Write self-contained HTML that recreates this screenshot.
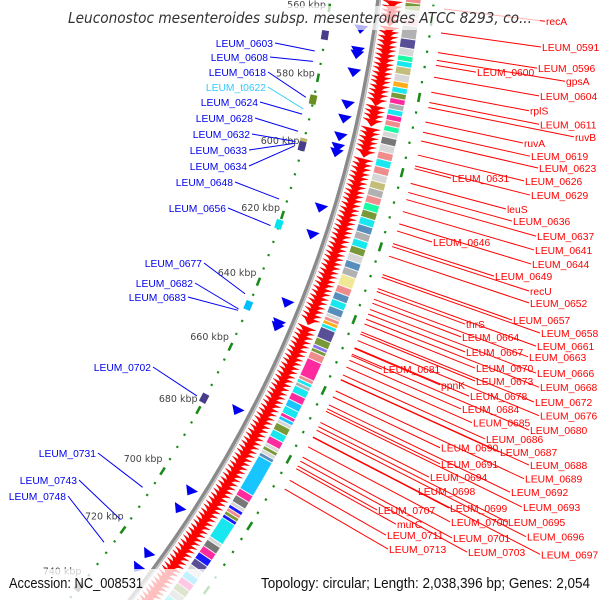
<!DOCTYPE html>
<html><head><meta charset="utf-8">
<style>
html,body{margin:0;padding:0;background:#fff;width:600px;height:600px;overflow:hidden;}
svg{display:block;overflow:hidden;}
text{font-family:"Liberation Sans","DejaVu Sans",sans-serif;}
</style></head>
<body>
<svg id="map" width="600" height="600" viewBox="0 0 600 600" xmlns="http://www.w3.org/2000/svg">
<g id="rings"></g>
<g id="labels"></g>
<rect x="60" y="6" width="480" height="24" fill="#fff" opacity="0.7"/>
<text x="68" y="23" font-size="15" font-style="italic" fill="#333" textLength="464" lengthAdjust="spacingAndGlyphs" style="font-family:'DejaVu Sans','Liberation Sans',sans-serif">Leuconostoc mesenteroides subsp. mesenteroides ATCC 8293, co...</text>
<rect x="0" y="569" width="600" height="31" fill="#fff" opacity="0.75"/>
<text x="9" y="588" font-size="14.5" fill="#111" textLength="134" lengthAdjust="spacingAndGlyphs">Accession: NC_008531</text>
<text x="261" y="588" font-size="14.5" fill="#111" textLength="329" lengthAdjust="spacingAndGlyphs">Topology: circular; Length: 2,038,396 bp; Genes: 2,054</text>
</svg>
<script>
// ---- data ----
const genomeLength = 2038.396; // kbp
const tickValues = [560,580,600,620,640,660,680,700,720,740];
const tickLabels = ["560 kbp","580 kbp","600 kbp","620 kbp","640 kbp","660 kbp","680 kbp","700 kbp","720 kbp","740 kbp"];
const redGeneStarts = [546,547.2,548.5,549.8,551,552.3,553.5,556,557.3,558.4,559.6,560.9,563,564.2,565.5,566.7,568,569.1,570.4,571.6,572.9,574,575.3,576.5,577.6,578.9,580.1,581.3,582.6,584.5,585.7,586.9,588.2,590.5,591.7,593,594.2,595.4,596.7,599,600.3,601.5,602.8,604,605.3,606.5,607.8,609,610.2,611.5,612.8,614,615.3,616.5,617.8,619,620.2,621.5,622.8,624,625.3,626.5,627.8,629,630.3,631.5,632.8,634,635.3,636.5,637.8,639,640.3,641.5,642.8,644,646.5,647.8,649,650.3,651.5,652.8,654,655.3,656.5,657.8,659,660.3,661.5,662.8,664,665.3,666.5,667.8,669,670.3,671.5,672.8,674,675.3,676.5,677.8,679,680.3,681.5,682.8,684,685.3,686.5,687.8,689,690.3,691.5,692.8,694,695.3,696.5,697.8,699,700.3,701.5,702.8,704,705.3,706.5,707.8,709,710.3,711.5,712.8,714,715.3,716.5,717.8,719,720.3,721.5,722.8,724,725.3,726.5,727.8,729,730.3,731.5,732.8,734,735.3,736.5,737.8,739,740.3,741.5,742.8,744,745.3,746.5,747.8,749,750.3,751.5,752.8,754,755.3];
const redGeneLength = 1.9;
const blockStarts = [546,548,550,552,554,556,558,560,562,565.5,568,570,571.5,573,575,577,578.5,580,581.5,583,584.5,586,587.5,589,590.5,592,594,596,598,600,602,604,606,608,610,612,614,616,618,620,622,624,626,628,630,633,635,637,639,641,642,643,644,645,648,650,651,652,654,659,660,661,662,664,666,668,670,671,672,673,675,677,679,680,681,682,683,693,695,697,698,699,700,701,702,708,709,711,713,715,717,719,721,723,725,727,730,733,736,739,742,745];
const blockColors = ["#ff1493","#d3d3d3","#00e5ee","#696969","#f08080","#6b8e23","#d3d3d3","#ffb6c1","#a9a9a9","#483d8b","#d3d3d3","#00fa9a","#00e5ee","#bdb76b","#d3d3d3","#ffa500","#00e5ee","#6b8e23","#ff1493","#a9a9a9","#00e5ee","#ff1493","#f08080","#00fa9a","#d3d3d3","#696969","#d3d3d3","#f08080","#00e5ee","#f08080","#d3d3d3","#bdb76b","#a9a9a9","#f08080","#00fa9a","#6b8e23","#00e5ee","#4682b4","#a9a9a9","#00e5ee","#6b8e23","#d3d3d3","#4682b4","#a9a9a9","#f0e68c","#f08080","#4682b4","#00e5ee","#4682b4","#d3d3d3","#f08080","#ffa500","#00e5ee","#483d8b","#6b8e23","#7b68ee","#6b8e23","#f08080","#ff1493","#f08080","#00e5ee","#a9a9a9","#00e5ee","#ff1493","#00bfff","#00e5ee","#ff1493","#00bfff","#d3d3d3","#6b8e23","#00e5ee","#ff1493","#d3d3d3","#6b8e23","#d3d3d3","#4682b4","#00bfff","#ff1493","#696969","#d3d3d3","#0000ff","#f08080","#6b8e23","#0000ff","#00e5ee","#d3d3d3","#696969","#ff1493","#0000ff","#483d8b","#d3d3d3","#00bfff","#ff1493","#6b8e23","#a9a9a9","#00e5ee","#f08080","#4682b4","#ff1493","#d3d3d3","#6b8e23"];
const blueArrowKbp = [566,572,573,578,587,591,596,599,600.5,616.3,624,644,650,651,676.5,702,707.8,722.8,727.5];
const innerBlockStarts = [566.5,585,597.5,598.5,621.5,646,675,739];
const innerBlockColors = ["#483d8b","#6b8e23","#bdb76b","#483d8b","#00e5ee","#00bfff","#483d8b","#696969"];
const rightGeneNames = ["recA","LEUM_0591","LEUM_0596","LEUM_0600","gpsA","LEUM_0604","rplS","LEUM_0611","ruvB","ruvA","LEUM_0619","LEUM_0623","LEUM_0631","LEUM_0626","LEUM_0629","leuS","LEUM_0636","LEUM_0637","LEUM_0646","LEUM_0641","LEUM_0644","LEUM_0649","recU","LEUM_0652","LEUM_0657","thrS","LEUM_0658","LEUM_0664","LEUM_0661","LEUM_0667","LEUM_0663","LEUM_0681","LEUM_0670","LEUM_0666","ppnK","LEUM_0673","LEUM_0668","LEUM_0678","LEUM_0672","LEUM_0684","LEUM_0676","LEUM_0685","LEUM_0680","LEUM_0686","LEUM_0690","LEUM_0687","LEUM_0691","LEUM_0688","LEUM_0694","LEUM_0689","LEUM_0698","LEUM_0692","LEUM_0699","LEUM_0693","LEUM_0707","LEUM_0700","LEUM_0695","murC","LEUM_0701","LEUM_0696","LEUM_0711","LEUM_0713","LEUM_0703","LEUM_0697"];
const rightGeneKbp = [556.5,562.7,567.8,571.1,569.8,574.2,578.1,580.8,582.1,585.9,588.6,590.9,598.2,594.6,597.5,602.1,604.5,606.4,614.8,609.6,612.9,618.2,619.0,621.6,626.6,631.2,627.3,634.4,630.4,637.4,633.3,648.9,640.1,636.1,646.9,642.9,638.8,646.7,642.3,650.2,644.7,652.1,648.5,654.3,660.5,655.7,663.9,655.6,667.8,658.8,672.0,662.8,672.1,664.6,680.4,674.8,669.0,681.2,677.8,670.0,684.6,687.2,679.0,672.0];
const leftGeneNames = ["LEUM_0603","LEUM_0608","LEUM_0618","LEUM_t0622","LEUM_0624","LEUM_0628","LEUM_0632","LEUM_0633","LEUM_0634","LEUM_0648","LEUM_0656","LEUM_0677","LEUM_0682","LEUM_0683","LEUM_0702","LEUM_0731","LEUM_0743","LEUM_0748"];
const leftGeneKbp = [572.7,575.7,586.1,589.5,591.0,596.0,599.0,599.5,600.3,616.0,623.9,644.6,649.3,649.7,676.7,706.9,718,726];
// ---- layout (not data) ----
const rightLabelX = [546,542,538,477,566,540,530,540,575,524,531,539,452,525,531,507,513,537,433,535,532,495,530,530,513,466,541,462,537,466,529,383,476,537,441,476,540,470,535,462,540,473,530,486,441,500,441,530,430,525,418,511,450,523,378,451,508,397,453,527,387,389,468,541];
const leftLabelEndX = [273,268,266,266,258,253,250,247,247,233,226,202,193,186,151,96,77,66];
const leftLabelY = [43,57,72,87,102,118,134,150,166,182,208,263,283,297,367,453,480,496];

const NS="http://www.w3.org/2000/svg";
const CX=-811, CY=-141, R0=1198;
function ang(k){return (14.5 + (k-600)*360/genomeLength)*Math.PI/180;}
function pt(k,r){const a=ang(k);return [CX+r*Math.cos(a), CY+r*Math.sin(a)];}
function mk(tag,attrs,parent){const e=document.createElementNS(NS,tag);for(const k in attrs)e.setAttribute(k,attrs[k]);parent.appendChild(e);return e;}
function arc(k1,k2,r){const p1=pt(k1,r),p2=pt(k2,r);return `M${p1[0]},${p1[1]} A${r},${r} 0 0 1 ${p2[0]},${p2[1]}`;}
function band(k1,k2,r1,r2){const a=pt(k1,r1),b=pt(k2,r1),c=pt(k2,r2),d=pt(k1,r2);
 return `M${a[0]},${a[1]} A${r1},${r1} 0 0 1 ${b[0]},${b[1]} L${c[0]},${c[1]} A${r2},${r2} 0 0 0 ${d[0]},${d[1]}Z`;}

const rings=document.getElementById('rings');
const labels=document.getElementById('labels');

let bb=mk('path',{d:arc(540,770,R0),fill:'none',stroke:'#8a8a8a','stroke-width':5},rings);


let bb2=mk('path',{d:arc(540,770,R0+1.5),fill:'none',stroke:'#c8c8c8','stroke-width':1.5},rings);



for(let k=540;k<=768;k+=4){
  const major = (k%20===0);
  [R0-48,R0+55].forEach(r=>{
    const d = major? arc(k-1.2,k+1.2,r) : arc(k-0.3,k+0.3,r);
    const e=mk('path',{d:d,fill:'none',stroke:'#1a8a1a','stroke-width':major?2.6:2.2},rings);
    
    
  });
}
tickValues.forEach((v,i)=>{
  const p=pt(v,R0-71);
  const t=mk('text',{x:p[0],y:p[1]+3,'text-anchor':'middle','font-size':9.5,fill:'#444'},rings);
  t.style.fontFamily="'DejaVu Sans','Liberation Sans',sans-serif";
  t.textContent=tickLabels[i];
  
  
});

blockStarts.forEach((s,i)=>{
  const e2 = (i+1<blockStarts.length? blockStarts[i+1] : s+3) - 0.15;
  const e=mk('path',{d:band(s,e2,R0+27,R0+42),fill:blockColors[i],stroke:'#fff','stroke-width':0.4,opacity:0.9},rings);
  
  
});

redGeneStarts.forEach(s=>{
  const e2=s+redGeneLength;
  const a=pt(s,R0+4),b=pt(s,R0+24),tip=pt(e2,R0+14),m1=pt(s+redGeneLength*0.3,R0+9),m2=pt(s+redGeneLength*0.3,R0+19);
  const e=mk('polygon',{points:`${a} ${m1} ${tip} ${m2} ${b}`,fill:'#ff0000',stroke:'#e00000','stroke-width':0.3},rings);
  
  
});

blueArrowKbp.forEach(k=>{
  const a=pt(k-2.4,R0-21),b=pt(k-2.4,R0-7),tip=pt(k,R0-14);
  const e=mk('polygon',{points:`${a} ${tip} ${b}`,fill:'#0000ee'},rings);
  
  
});
innerBlockStarts.forEach((s,i)=>{
  const e=mk('path',{d:band(s,s+2.6,R0-52,R0-45),fill:innerBlockColors[i]},rings);
  
  
});

rightGeneNames.forEach((n,i)=>{
  const k=rightGeneKbp[i];
  const a=ang(k);
  const x=rightLabelX[i];
  const ly=(x-CX)*Math.tan(a)+CY;
  const p0=pt(k,R0+66);
  const ln=mk('line',{x1:p0[0],y1:p0[1],x2:x-1,y2:ly,stroke:'#ff0000','stroke-width':1},labels);
  
  
  const t=mk('text',{x:x,y:ly+4,'font-size':10.3,fill:'#ff0000'},labels);
  t.textContent=n;
  
  
});
leftGeneNames.forEach((n,i)=>{
  const p=pt(leftGeneKbp[i],R0-56);
  const x=leftLabelEndX[i], y=leftLabelY[i];
  const col = n==='LEUM_t0622' ? '#33ccff' : '#0000ee';
  const ln=mk('line',{x1:x+2,y1:y,x2:p[0],y2:p[1],stroke:col,'stroke-width':1},labels);
  
  
  const t=mk('text',{x:x,y:y+4,'font-size':10.3,fill:col,'text-anchor':'end'},labels);
  t.textContent=n;
  
  
});
</script>
</body></html>
